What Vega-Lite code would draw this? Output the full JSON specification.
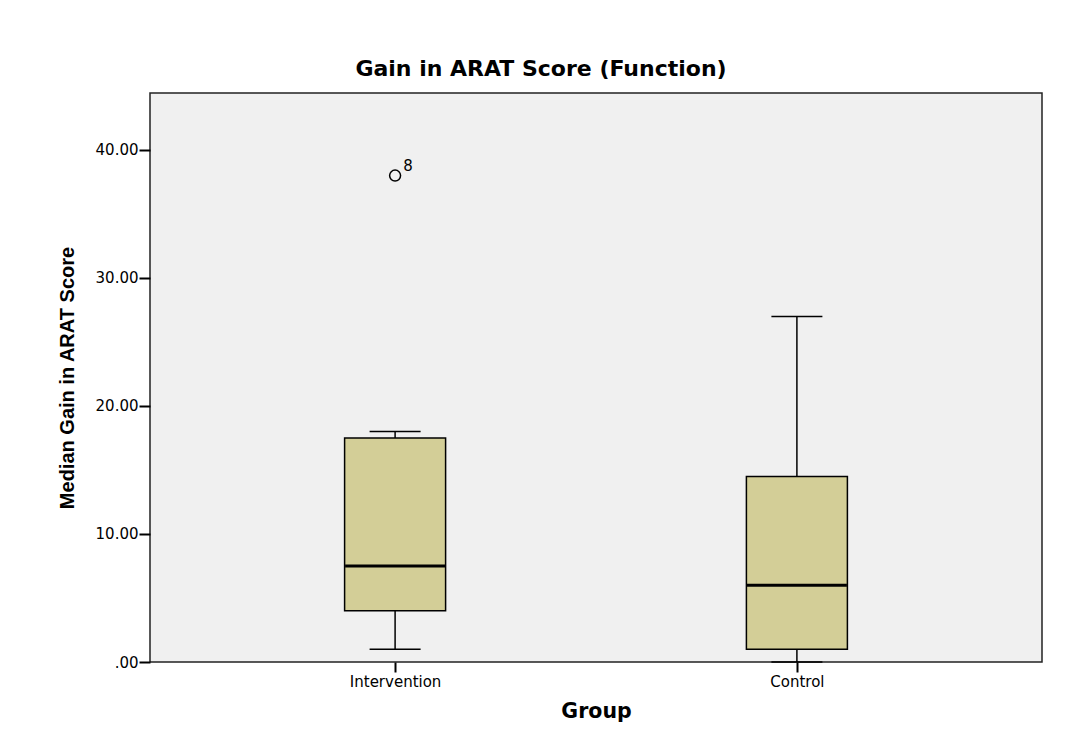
{
  "$schema": "https://vega.github.io/schema/vega-lite/v6.json",
  "width": 892,
  "height": 569,
  "autosize": {"type": "none"},
  "padding": {"left": 150, "top": 93, "right": 29, "bottom": 90},
  "background": "white",
  "config": {
    "font": "DejaVu Sans",
    "view": {"fill": "#f0f0f0", "stroke": "#222222", "strokeWidth": 1.5}
  },
  "title": {
    "text": "Gain in ARAT Score (Function)",
    "font": "DejaVu Sans",
    "fontSize": 22,
    "fontWeight": "bold",
    "color": "#000000",
    "anchor": "middle",
    "frame": "group",
    "dx": -55,
    "offset": 12
  },
  "datasets": {
    "boxes": [
      {"group": "Intervention", "lower": 1, "q1": 4, "median": 7.5, "q3": 17.5, "upper": 18},
      {"group": "Control", "lower": 0, "q1": 1, "median": 6, "q3": 14.5, "upper": 27}
    ],
    "outliers": [
      {"group": "Intervention", "value": 38, "case": "8"}
    ]
  },
  "encoding": {
    "x": {
      "field": "group",
      "type": "nominal",
      "sort": ["Intervention", "Control"],
      "scale": {"type": "point", "padding": 0.61},
      "axis": {
        "title": "Group",
        "titleFont": "DejaVu Sans",
        "titleFontSize": 20.5,
        "titleFontWeight": "bold",
        "titleColor": "#000000",
        "titlePadding": 12,
        "labelFont": "DejaVu Sans",
        "labelFontSize": 15,
        "labelColor": "#000000",
        "labelPadding": 2,
        "tickSize": 10,
        "tickWidth": 2,
        "tickColor": "#000000",
        "domain": false,
        "labelAngle": 0
      }
    }
  },
  "layer": [
    {
      "data": {"name": "boxes"},
      "mark": {"type": "rule", "color": "#000000", "strokeWidth": 1.5},
      "encoding": {
        "y": {
          "field": "lower",
          "type": "quantitative",
          "scale": {"domain": [0, 44.45], "nice": false, "zero": false},
          "axis": {
            "title": "Median Gain in ARAT Score",
            "titleFont": "Liberation Sans",
            "titleFontSize": 20,
            "titleFontWeight": "bold",
            "titleColor": "#000000",
            "titlePadding": 18,
            "values": [0, 10, 20, 30, 40],
            "labelExpr": "datum.value == 0 ? '.00' : format(datum.value, '.2f')",
            "labelFont": "DejaVu Sans",
            "labelFontSize": 15,
            "labelColor": "#000000",
            "labelPadding": 1,
            "tickSize": 11,
            "tickWidth": 2,
            "tickColor": "#000000",
            "domain": false,
            "grid": false
          }
        },
        "y2": {"field": "upper"}
      }
    },
    {
      "data": {"name": "boxes"},
      "mark": {"type": "tick", "orient": "horizontal", "size": 51, "thickness": 1.5, "color": "#000000", "opacity": 1},
      "encoding": {"y": {"field": "upper", "type": "quantitative"}}
    },
    {
      "data": {"name": "boxes"},
      "mark": {"type": "tick", "orient": "horizontal", "size": 51, "thickness": 1.5, "color": "#000000", "opacity": 1},
      "encoding": {"y": {"field": "lower", "type": "quantitative"}}
    },
    {
      "data": {"name": "boxes"},
      "mark": {"type": "bar", "size": 101, "fill": "#d3ce97", "stroke": "#000000", "strokeWidth": 1.5, "opacity": 1},
      "encoding": {
        "y": {"field": "q1", "type": "quantitative"},
        "y2": {"field": "q3"}
      }
    },
    {
      "data": {"name": "boxes"},
      "mark": {"type": "tick", "orient": "horizontal", "size": 100, "thickness": 3, "color": "#000000", "opacity": 1},
      "encoding": {"y": {"field": "median", "type": "quantitative"}}
    },
    {
      "data": {"name": "outliers"},
      "mark": {"type": "point", "shape": "circle", "size": 120, "filled": false, "stroke": "#000000", "strokeWidth": 1.5, "opacity": 1},
      "encoding": {"y": {"field": "value", "type": "quantitative"}}
    },
    {
      "data": {"name": "outliers"},
      "mark": {"type": "text", "dx": 13, "dy": -10, "fontSize": 15, "font": "DejaVu Sans", "color": "#000000"},
      "encoding": {
        "y": {"field": "value", "type": "quantitative"},
        "text": {"field": "case"}
      }
    }
  ]
}
